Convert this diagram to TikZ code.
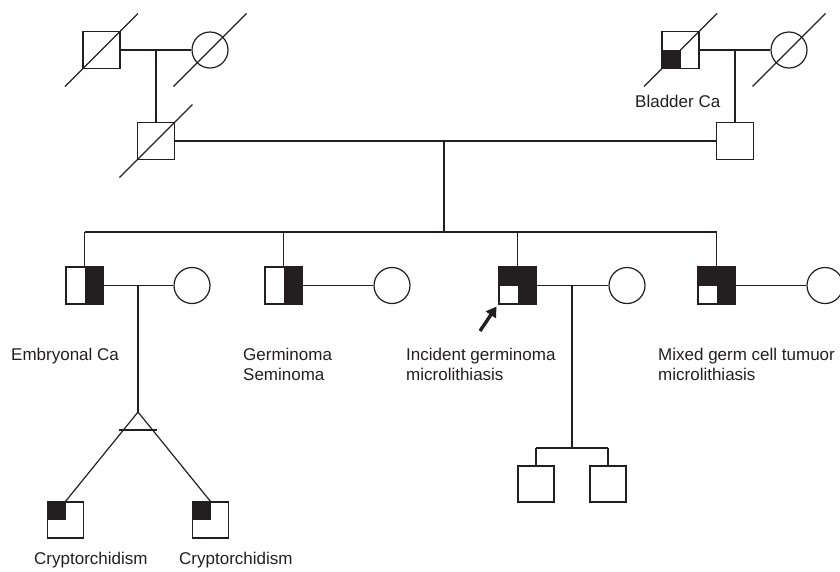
\documentclass[tikz,border=0pt]{standalone}
\usepackage{fontspec}
\setmainfont{Liberation Sans}
\usetikzlibrary{arrows.meta}
\definecolor{ink}{HTML}{231F20}
\tikzset{
  ln/.style={draw=ink, line width=1.2pt},
  male/.style={ln, rectangle, minimum size=37pt, inner sep=0pt, fill=white},
  kid/.style={ln, rectangle, minimum size=36pt, inner sep=0pt, fill=white},
  female/.style={ln, circle, minimum size=36pt, inner sep=0pt, fill=white},
  affLL/.style={path picture={\fill[ink] (path picture bounding box.south west) rectangle (path picture bounding box.center);}},
  affUL/.style={path picture={\fill[ink] (path picture bounding box.north west) rectangle (path picture bounding box.center);}},
  affR/.style={path picture={\fill[ink] (path picture bounding box.south) rectangle (path picture bounding box.north east);}},
  affNotLL/.style={path picture={\fill[ink] (path picture bounding box.west) rectangle (path picture bounding box.north east);
      \fill[ink] (path picture bounding box.south) rectangle (path picture bounding box.east);}},
  lbl/.style={anchor=base west, inner sep=0pt, text=ink, font=\fontsize{17}{20}\selectfont},
}
\newcommand{\dead}[1]{\draw[ln] ([shift={(-36.5,36.5)}]#1.center) -- ([shift={(36.5,-36.5)}]#1.center);}
\begin{document}
\begin{tikzpicture}[x=1pt,y=-1pt]
\useasboundingbox (0,0) rectangle (840,571);
% Generation I
\node[male] (i1) at (101.5,50) {};
\node[female] (i2) at (210,50) {};
\node[male, affLL] (i3) at (680.5,50) {};
\node[female] (i4) at (789,50) {};
% Generation II
\node[male] (ii1) at (156,141) {};
\node[male] (ii2) at (735,141) {};
% marriages gen I
\draw[ln] (i1.east) -- (i2.west);
\coordinate (d1) at (ii1.north |- i1.east);
\draw[ln] (d1) -- (ii1.north);
\draw[ln] (i3.east) -- (i4.west);
\coordinate (d2) at (ii2.north |- i3.east);
\draw[ln] (d2) -- (ii2.north);
\dead{i1}\dead{i2}\dead{i3}\dead{i4}\dead{ii1}
% marriage gen II
\draw[ln] (ii1.east) -- (ii2.west);
\coordinate (m2) at (444,141);
\coordinate (sib) at (444,232);
\draw[ln] (m2) -- (sib);
% Generation III
\node[male, affR] (iii1) at (84.5,285.5) {};
\node[female] (iii1w) at (192,285.5) {};
\node[male, affR] (iii2) at (283.5,285.5) {};
\node[female] (iii2w) at (392,285.5) {};
\node[male, affNotLL] (iii3) at (517.5,285.5) {};
\node[female] (iii3w) at (627,285.5) {};
\node[male, affNotLL] (iii4) at (716.5,285.5) {};
\node[female] (iii4w) at (825,285.5) {};
\coordinate (s1) at (iii1.north |- sib);
\coordinate (s2) at (iii2.north |- sib);
\coordinate (s3) at (iii3.north |- sib);
\coordinate (s4) at (iii4.north |- sib);
\draw[ln] (s1) -- (s4);
\draw[ln] (s1) -- (iii1.north);
\draw[ln] (s2) -- (iii2.north);
\draw[ln] (s3) -- (iii3.north);
\draw[ln] (s4) -- (iii4.north);
\draw[ln] (iii1.east) -- (iii1w.west);
\draw[ln] (iii2.east) -- (iii2w.west);
\draw[ln] (iii3.east) -- (iii3w.west);
\draw[ln] (iii4.east) -- (iii4w.west);
% proband arrow
\coordinate (at) at (480,331);
\draw[draw=ink, line width=3.4pt, -{Triangle[length=10pt,width=12pt]}] (at) -- ([shift={(-2,2)}]iii3.south west);
% twins
\coordinate (tm) at (138,285.5);
\coordinate (apex) at (138,412);
\draw[ln] (tm) -- (apex);
\node[kid, affUL] (tw1) at (65.5,520) {};
\node[kid, affUL] (tw2) at (210.5,520) {};
\draw[ln] (tw1.north) -- (apex) -- (tw2.north);
\coordinate (bl) at (119,430);
\coordinate (br) at (157,430);
\draw[ln] (bl) -- (br);
% children of proband
\coordinate (pm) at (572,285.5);
\coordinate (pc) at (572,448);
\draw[ln] (pm) -- (pc);
\node[kid] (iv1) at (536,484) {};
\node[kid] (iv2) at (608,484) {};
\coordinate (c1) at (iv1.north |- pc);
\coordinate (c2) at (iv2.north |- pc);
\draw[ln] (c1) -- (c2);
\draw[ln] (c1) -- (iv1.north);
\draw[ln] (c2) -- (iv2.north);
% labels
\node[lbl] (t1) at (635,107) {Bladder Ca};
\node[lbl] (t2) at (11,360) {Embryonal Ca};
\node[lbl] (t3) at (243,360) {Germinoma};
\node[lbl] (t4) at (243,380.5) {Seminoma};
\node[lbl] (t5) at (406,360) {Incident germinoma};
\node[lbl] (t6) at (406,380.5) {microlithiasis};
\node[lbl] (t7) at (658,360) {Mixed germ cell tumuor};
\node[lbl] (t8) at (658,380.5) {microlithiasis};
\node[lbl] (t9) at (34,564) {Cryptorchidism};
\node[lbl] (t10) at (179,564) {Cryptorchidism};
\end{tikzpicture}
\end{document}
